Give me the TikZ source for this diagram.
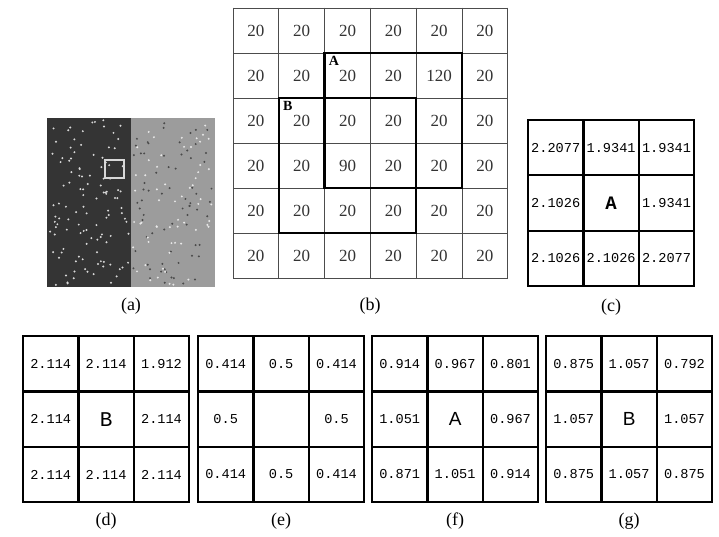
\documentclass[tikz,border=0pt]{standalone}
\usepackage{fontspec}
\setmainfont{Liberation Serif}
\setsansfont{Liberation Sans}
\setmonofont{Liberation Mono}
\definecolor{imgDark}{HTML}{343434}
\definecolor{imgLight}{HTML}{9C9C9C}
\definecolor{dotWhite}{HTML}{D8D8D8}
\definecolor{dotDark}{HTML}{4A4A4A}

\tikzset{
  gridline/.style={draw=black!70,line width=0.9pt,line cap=rect},
  boldbox/.style={draw=black,line width=2.4pt,line cap=rect},
  tabline/.style={draw=black,line width=2.2pt,line cap=rect},
  bnum/.style={font=\fontsize{17}{17}\selectfont,text=black!80},
  tnum/.style={font=\fontsize{13.6}{13.6}\ttfamily,text=black,inner sep=0pt},
  marklabel/.style={font=\fontsize{14}{14}\selectfont\bfseries,inner sep=0pt,anchor=north west},
  caption/.style={font=\fontsize{18}{18}\selectfont},
}

\def\tabcell{55.4}
% 3x3 table: name, left, top, entries
\newcommand\valuegrid[4]{%
  \foreach \i in {0,...,3}{
    \draw[tabline] ({#2+\i*\tabcell},#3) -- ++(0,3*\tabcell);
    \draw[tabline] (#2,{#3+\i*\tabcell}) -- ++(3*\tabcell,0);
  }
  \foreach \v [count=\k from 0] in {#4}{
    \pgfmathtruncatemacro\col{mod(\k,3)}
    \pgfmathtruncatemacro\row{\k/3}
    \node[tnum] (#1-\row-\col) at ({#2+(\col+0.5)*\tabcell},{#3+(\row+0.5)*\tabcell}) {\v};
  }
}

\begin{document}
\begin{tikzpicture}[x=1pt,y=-1pt]
  \useasboundingbox[fill=white] (0,0) rectangle (719,537);

  % (a) noisy image
  \fill[imgDark] (47,118) rectangle (131,287);
  \fill[imgLight] (131,118) rectangle (215,287);
  \pgfmathsetseed{5}
  \foreach \i in {1,...,115}{
    \pgfmathsetmacro\px{49+80*rnd}
    \pgfmathsetmacro\py{120+165*rnd}
    \fill[dotWhite] (\px,\py) circle (1.1);
  }
  \foreach \i in {1,...,70}{
    \pgfmathsetmacro\px{133+80*rnd}
    \pgfmathsetmacro\py{120+165*rnd}
    \fill[dotDark] (\px,\py) circle (1.1);
  }
  \foreach \i in {1,...,60}{
    \pgfmathsetmacro\px{133+80*rnd}
    \pgfmathsetmacro\py{120+165*rnd}
    \fill[dotWhite!60!white] (\px,\py) circle (1.1);
  }
  \draw[dotWhite,line width=1.5pt] (105,160) rectangle (124,178);
  \node[caption] (cap-a) at (131,306) {(a)};

  % (b) pixel grid
  \foreach \i in {0,...,6}{
    \draw[gridline] ({233+\i*45.8},8) -- ++(0,270);
    \draw[gridline] (233,{8+\i*45}) -- ++(274.8,0);
  }
  \foreach \v [count=\k from 0] in {20,20,20,20,20,20,
                                    20,20,20,20,120,20,
                                    20,20,20,20,20,20,
                                    20,20,90,20,20,20,
                                    20,20,20,20,20,20,
                                    20,20,20,20,20,20}{
    \pgfmathtruncatemacro\col{mod(\k,6)}
    \pgfmathtruncatemacro\row{\k/6}
    \node[bnum] (b-\row-\col) at ({233+(\col+0.5)*45.8},{8+(\row+0.5)*45}) {\v};
  }
  \draw[boldbox] ({233+2*45.8},53) rectangle ({233+5*45.8},188);
  \draw[boldbox] ({233+1*45.8},98) rectangle ({233+4*45.8},233);
  \node[marklabel] (mark-a) at ({233+2*45.8+4},56) {A};
  \node[marklabel] (mark-b) at ({233+1*45.8+4},101) {B};
  \node[caption] (cap-b) at (370,306) {(b)};

  % (c)--(g) value tables
  \valuegrid{c}{528}{120}{2.2077,1.9341,1.9341,
    2.1026,{\fontsize{19}{19}\ttfamily\bfseries A},1.9341,
    2.1026,2.1026,2.2077}
  \node[caption] (cap-c) at (611,307) {(c)};

  \valuegrid{d}{23}{336}{2.114,2.114,1.912,
    2.114,{\fontsize{21}{21}\ttfamily B},2.114,
    2.114,2.114,2.114}
  \node[caption] (cap-d) at (106,521) {(d)};

  \valuegrid{e}{198}{336}{0.414,0.5,0.414,
    0.5,{},0.5,
    0.414,0.5,0.414}
  \node[caption] (cap-e) at (281,521) {(e)};

  \valuegrid{f}{372}{336}{0.914,0.967,0.801,
    1.051,{\fontsize{19}{19}\sffamily A},0.967,
    0.871,1.051,0.914}
  \node[caption] (cap-f) at (455,521) {(f)};

  \valuegrid{g}{546}{336}{0.875,1.057,0.792,
    1.057,{\fontsize{19}{19}\sffamily B},1.057,
    0.875,1.057,0.875}
  \node[caption] (cap-g) at (629,521) {(g)};
\end{tikzpicture}
\end{document}
